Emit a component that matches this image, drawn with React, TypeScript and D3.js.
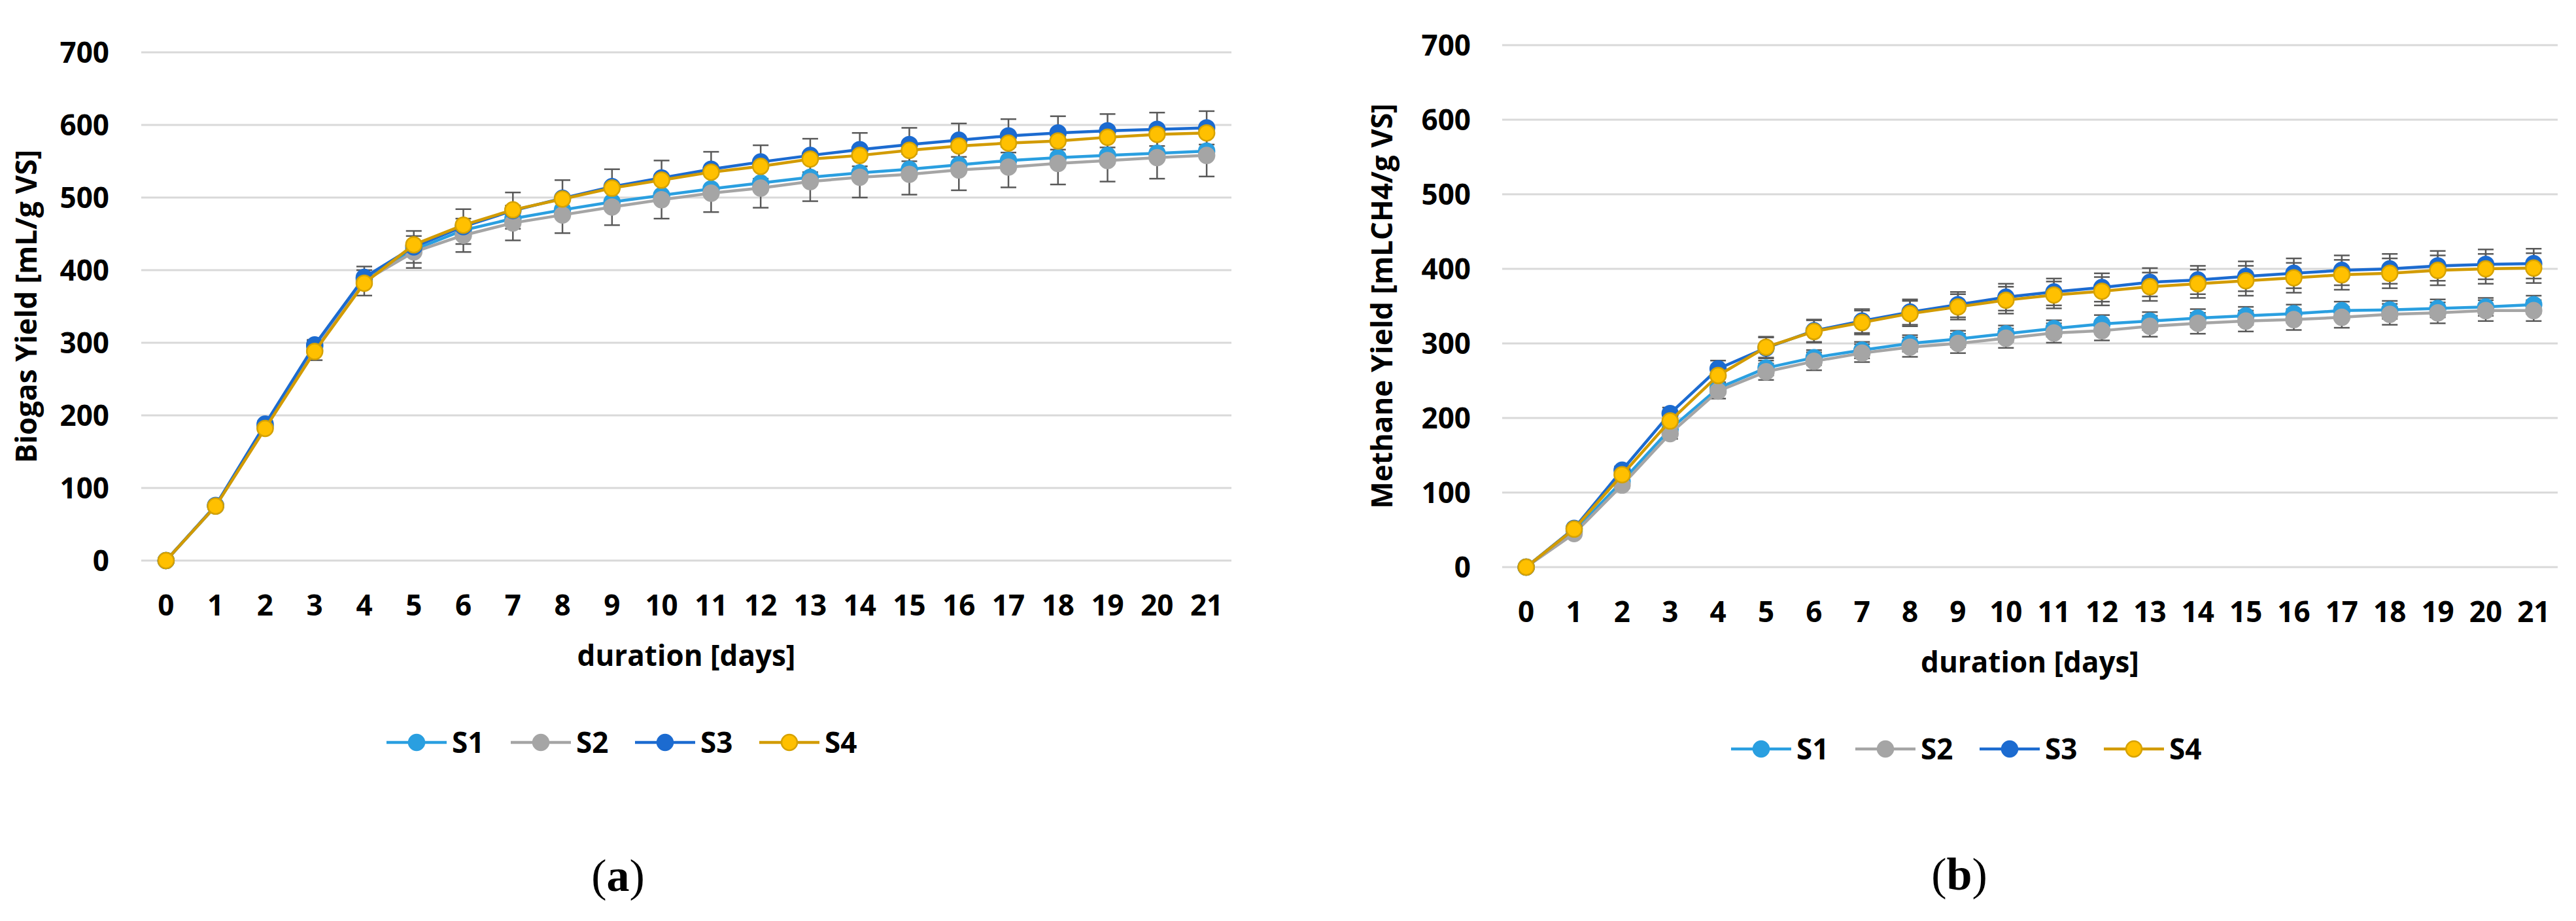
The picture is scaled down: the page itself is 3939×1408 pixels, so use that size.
import { useEffect, useRef } from 'react';
import * as d3 from 'd3';

const days = [0, 1, 2, 3, 4, 5, 6, 7, 8, 9, 10, 11, 12, 13, 14, 15, 16, 17, 18, 19, 20, 21];
const yTicks = [0, 100, 200, 300, 400, 500, 600, 700];
const seriesNames = ['S1', 'S2', 'S3', 'S4'];

// (a) biogas yield, mL/g VS
const biogasS1 = [0, 75, 185, 295, 388, 428, 455, 471, 483, 494, 503, 512, 520, 528, 534, 539, 545, 551, 555, 558, 561, 564];
const biogasS2 = [0, 75, 183, 290, 385, 425, 448, 465, 476, 487, 497, 506, 513, 522, 528, 532, 538, 542, 547, 551, 555, 558];
const biogasS3 = [0, 76, 188, 297, 390, 432, 460, 482, 499, 515, 527, 539, 549, 558, 566, 573, 579, 585, 589, 592, 594, 596];
const biogasS4 = [0, 75, 182, 288, 382, 435, 462, 483, 498, 513, 524, 535, 543, 553, 558, 565, 571, 575, 578, 583, 587, 589];
const biogasErrS2 = [0, 2, 4, 14, 20, 22, 23, 24, 25, 25, 26, 26, 27, 27, 28, 28, 28, 28, 29, 29, 29, 29];
const biogasErrS3 = [0, 2, 4, 6, 10, 22, 24, 25, 25, 24, 24, 24, 23, 23, 23, 23, 23, 23, 23, 23, 23, 23];

// (b) methane yield, mLCH4/g VS
const methaneS1 = [0, 48, 115, 185, 240, 267, 281, 291, 300, 306, 313, 320, 326, 330, 334, 337, 340, 344, 345, 347, 349, 352];
const methaneS2 = [0, 45, 110, 179, 236, 262, 276, 287, 295, 300, 307, 314, 317, 323, 327, 330, 332, 335, 339, 341, 344, 344];
const methaneS3 = [0, 52, 130, 206, 266, 294, 317, 330, 342, 352, 362, 369, 375, 382, 385, 390, 394, 398, 400, 404, 406, 407];
const methaneS4 = [0, 51, 124, 196, 257, 295, 316, 328, 340, 349, 358, 365, 370, 376, 380, 384, 388, 392, 394, 398, 400, 401];
const methaneErrS1 = [0, 2, 4, 6, 8, 10, 10, 11, 11, 11, 11, 11, 12, 12, 12, 12, 12, 12, 12, 12, 12, 12];
const methaneErrS2 = [0, 2, 4, 7, 10, 11, 12, 12, 13, 13, 13, 13, 13, 14, 14, 14, 14, 14, 14, 14, 14, 14];
const methaneErrS3 = [0, 3, 5, 8, 11, 14, 15, 16, 17, 17, 18, 18, 19, 19, 19, 20, 20, 20, 20, 20, 20, 20];
const methaneErrS4 = [0, 3, 5, 8, 11, 14, 15, 16, 17, 17, 18, 18, 19, 19, 19, 20, 20, 20, 20, 20, 20, 20];

const lineColors = ['#2A9FE0', '#A5A5A5', '#1C6BD0', '#D29B00'];
const markerFill = ['#2A9FE0', '#A5A5A5', '#1C6BD0', '#FFC000'];
const markerStroke = ['#2A9FE0', '#A5A5A5', '#1C6BD0', '#D6A200'];

const FONT = '"Open Sans", Calibri, sans-serif';

const panels = [
  {
    tag: 'a',
    yTitle: 'Biogas Yield [mL/g VS]',
    values: [biogasS1, biogasS2, biogasS3, biogasS4],
    errors: [null, biogasErrS2, biogasErrS3, null],
    left: 216, right: 1883, top: 80, bottom: 857,
    tickRight: 167, yTitleX: 41, xLabelY: 941, xTitleY: 1018,
    legendX: 591, legendY: 1135, tagX: 945, tagY: 1362,
  },
  {
    tag: 'b',
    yTitle: 'Methane Yield [mLCH4/g VS]',
    values: [methaneS1, methaneS2, methaneS3, methaneS4],
    errors: [methaneErrS1, methaneErrS2, methaneErrS3, methaneErrS4],
    left: 2297, right: 3911, top: 69, bottom: 867,
    tickRight: 2249, yTitleX: 2114, xLabelY: 951, xTitleY: 1028,
    legendX: 2647, legendY: 1145, tagX: 2996, tagY: 1360,
  },
];

export default function App() {
  const ref = useRef<SVGSVGElement | null>(null);

  useEffect(() => {
    if (!ref.current) return;
    const svg = d3.select(ref.current);
    svg.selectAll('*').remove();

    svg.append('rect').attr('width', 3939).attr('height', 1408).attr('fill', '#fff');

    panels.forEach(p => {
      const g = svg.append('g');

      const x = d3.scaleBand<string>()
        .domain(days.map(String))
        .range([p.left, p.right])
        .padding(0);
      const cx = (d: number) => (x(String(d)) as number) + x.bandwidth() / 2;

      const y = d3.scaleLinear().domain([0, 700]).range([p.bottom, p.top]);

      // gridlines
      g.append('g')
        .selectAll('line')
        .data(yTicks)
        .enter()
        .append('line')
        .attr('x1', p.left)
        .attr('x2', p.right)
        .attr('y1', d => y(d))
        .attr('y2', d => y(d))
        .attr('stroke', '#D9D9D9')
        .attr('stroke-width', 3);

      // y tick labels
      g.append('g')
        .selectAll('text')
        .data(yTicks)
        .enter()
        .append('text')
        .attr('x', p.tickRight)
        .attr('y', d => y(d))
        .attr('dy', '0.36em')
        .attr('text-anchor', 'end')
        .attr('font-family', FONT)
        .attr('font-weight', 700)
        .attr('font-size', 44)
        .attr('fill', '#000')
        .text(d => d);

      // x tick labels
      g.append('g')
        .selectAll('text')
        .data(days)
        .enter()
        .append('text')
        .attr('x', d => cx(d))
        .attr('y', p.xLabelY)
        .attr('text-anchor', 'middle')
        .attr('font-family', FONT)
        .attr('font-weight', 700)
        .attr('font-size', 44)
        .attr('fill', '#000')
        .text(d => d);

      // axis titles
      g.append('text')
        .attr('transform', `translate(${p.yTitleX},${(p.top + p.bottom) / 2}) rotate(-90)`)
        .attr('text-anchor', 'middle')
        .attr('dy', '0.35em')
        .attr('font-family', FONT)
        .attr('font-weight', 700)
        .attr('font-size', 44)
        .text(p.yTitle);

      g.append('text')
        .attr('x', (p.left + p.right) / 2)
        .attr('y', p.xTitleY)
        .attr('text-anchor', 'middle')
        .attr('font-family', FONT)
        .attr('font-weight', 700)
        .attr('font-size', 44)
        .text('duration [days]');

      // error bars
      const eg = g.append('g').attr('stroke', '#595959').attr('stroke-width', 2.5);
      p.values.forEach((vals, si) => {
        const errs = p.errors[si];
        if (!errs) return;
        vals.forEach((v, i) => {
          const e = errs[i];
          if (!e) return;
          const xx = cx(days[i]);
          eg.append('line').attr('x1', xx).attr('x2', xx).attr('y1', y(v - e)).attr('y2', y(v + e));
          eg.append('line').attr('x1', xx - 12).attr('x2', xx + 12).attr('y1', y(v + e)).attr('y2', y(v + e));
          eg.append('line').attr('x1', xx - 12).attr('x2', xx + 12).attr('y1', y(v - e)).attr('y2', y(v - e));
        });
      });

      // lines and markers
      const line = d3.line<number>()
        .x((_, i) => cx(days[i]))
        .y(d => y(d));

      p.values.forEach((vals, si) => {
        g.append('path')
          .datum(vals)
          .attr('d', line)
          .attr('fill', 'none')
          .attr('stroke', lineColors[si])
          .attr('stroke-width', 4.5)
          .attr('stroke-linejoin', 'round');

        g.append('g')
          .selectAll('circle')
          .data(vals)
          .enter()
          .append('circle')
          .attr('cx', (_, i) => cx(days[i]))
          .attr('cy', d => y(d))
          .attr('r', 12)
          .attr('fill', markerFill[si])
          .attr('stroke', markerStroke[si])
          .attr('stroke-width', 2.5);
      });

      // legend
      const lg = g.append('g');
      seriesNames.forEach((name, si) => {
        const x0 = p.legendX + si * 190;
        lg.append('line')
          .attr('x1', x0).attr('x2', x0 + 92)
          .attr('y1', p.legendY).attr('y2', p.legendY)
          .attr('stroke', lineColors[si])
          .attr('stroke-width', 4.5);
        lg.append('circle')
          .attr('cx', x0 + 46).attr('cy', p.legendY).attr('r', 12)
          .attr('fill', markerFill[si])
          .attr('stroke', markerStroke[si])
          .attr('stroke-width', 2.5);
        lg.append('text')
          .attr('x', x0 + 100)
          .attr('y', p.legendY)
          .attr('dy', '0.36em')
          .attr('font-family', FONT)
          .attr('font-weight', 700)
          .attr('font-size', 44)
          .text(name);
      });

      // panel tag
      const t = g.append('text')
        .attr('x', p.tagX)
        .attr('y', p.tagY)
        .attr('text-anchor', 'middle')
        .attr('font-family', '"Liberation Serif", "Times New Roman", serif')
        .attr('font-size', 70);
      t.append('tspan').text('(');
      t.append('tspan').attr('font-weight', 700).text(p.tag);
      t.append('tspan').text(')');
    });
  }, []);

  return (
    <svg
      ref={ref}
      width={3939}
      height={1408}
      style={{ position: 'absolute', left: 0, top: 0, display: 'block' }}
    />
  );
}
